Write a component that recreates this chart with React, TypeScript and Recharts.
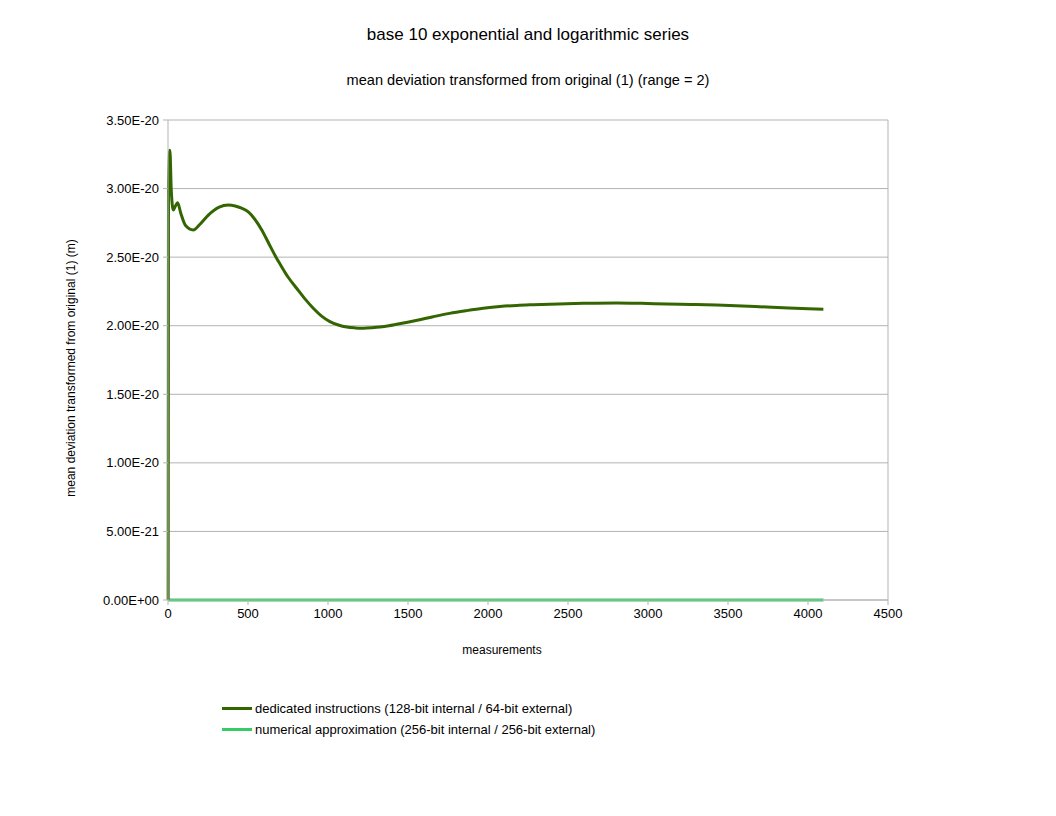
import { LineChart, Line, XAxis, YAxis, CartesianGrid, Legend, ReferenceLine, Label } from "recharts";

const measurements = [
  1, 3, 12, 20, 33, 45, 60, 80, 110, 158, 200, 252, 320, 377, 420, 460, 502, 540, 585, 630,
  675, 700, 750, 804, 860, 908, 960, 1012, 1065, 1117, 1170, 1221, 1275, 1325, 1380, 1429, 1490,
  1550, 1658, 1760, 1867, 1970, 2075, 2180, 2283, 2440, 2596, 2804, 2960, 3117, 3270, 3429, 3590,
  3742, 3920, 4096,
];
const dedicated = [
  0, 3.0e-20, 3.28e-20, 3.0e-20, 2.844e-20, 2.87e-20, 2.897e-20, 2.82e-20, 2.73e-20, 2.698e-20,
  2.74e-20, 2.807e-20, 2.865e-20, 2.88e-20, 2.873e-20, 2.857e-20, 2.83e-20, 2.78e-20, 2.7e-20,
  2.6e-20, 2.5e-20, 2.45e-20, 2.355e-20, 2.273e-20, 2.19e-20, 2.127e-20, 2.07e-20, 2.03e-20,
  2.005e-20, 1.99e-20, 1.984e-20, 1.982e-20, 1.985e-20, 1.99e-20, 1.999e-20, 2.01e-20, 2.024e-20,
  2.038e-20, 2.066e-20, 2.09e-20, 2.11e-20, 2.127e-20, 2.14e-20, 2.148e-20, 2.153e-20, 2.159e-20,
  2.163e-20, 2.166e-20, 2.163e-20, 2.158e-20, 2.155e-20, 2.151e-20, 2.144e-20, 2.136e-20,
  2.128e-20, 2.12e-20,
];
const numerical = measurements.map(() => 0);

const xTicks = [0, 500, 1000, 1500, 2000, 2500, 3000, 3500, 4000, 4500];
const yTicks = [0, 5e-21, 1e-20, 1.5e-20, 2e-20, 2.5e-20, 3e-20, 3.5e-20];

const data = measurements.map((m, i) => ({ m, dedicated: dedicated[i], numerical: numerical[i] }));

const FONT = "'Liberation Sans', Arial, sans-serif";
const GRID = "#b3b3b3";

function sci(v: number) {
  if (v === 0) return "0.00E+00";
  const [mant, exp] = v.toExponential(2).split("e");
  const n = parseInt(exp, 10);
  return `${mant}E${n < 0 ? "-" : "+"}${String(Math.abs(n)).padStart(2, "0")}`;
}

function LegendBox({ payload }: any) {
  return (
    <div style={{ fontFamily: FONT, fontSize: 13, color: "#000" }}>
      {(payload || []).map((p: any) => (
        <div key={p.value} style={{ display: "flex", alignItems: "center", height: 21 }}>
          <span style={{ display: "inline-block", width: 30, height: 3, background: p.color, marginRight: 3 }} />
          <span>{p.value}</span>
        </div>
      ))}
    </div>
  );
}

export default function App() {
  return (
    <div style={{ position: "absolute", left: 0, top: 0, width: 1056, height: 816, background: "#fff", fontFamily: FONT }}>
      <div style={{ position: "absolute", top: 25, width: 1056, textAlign: "center", fontSize: 17, color: "#000" }}>
        base 10 exponential and logarithmic series
      </div>
      <div style={{ position: "absolute", top: 72, width: 1056, textAlign: "center", fontSize: 14.6, color: "#000" }}>
        mean deviation transformed from original (1) (range = 2)
      </div>
      <LineChart
        width={1056}
        height={816}
        data={data}
        margin={{ top: 120, right: 168, left: 108, bottom: 186 }}
        style={{ position: "absolute", left: 0, top: 0 }}
      >
        <CartesianGrid vertical={false} stroke={GRID} />
        <XAxis
          dataKey="m"
          type="number"
          domain={[0, 4500]}
          ticks={xTicks}
          height={30}
          stroke={GRID}
          tickSize={5}
          tickMargin={4}
          tick={{ fill: "#000", fontSize: 13, fontFamily: FONT }}
        >
          <Label value="measurements" position="center" dx={-26} dy={35} fill="#000" fontSize={12} fontFamily={FONT} />
        </XAxis>
        <YAxis
          type="number"
          domain={[0, 3.5e-20]}
          ticks={yTicks}
          width={60}
          stroke={GRID}
          tickSize={5}
          tickMargin={4}
          tickFormatter={sci}
          tick={{ fill: "#000", fontSize: 13, fontFamily: FONT }}
        >
          <Label
            value="mean deviation transformed from original (1) (m)"
            position="center"
            angle={-90}
            dx={-67}
            dy={8}
            fill="#000"
            fontSize={12}
            fontFamily={FONT}
          />
        </YAxis>
        <ReferenceLine x={4500} stroke={GRID} />
        <Line
          type="monotone"
          dataKey="numerical"
          name="numerical approximation (256-bit internal / 256-bit external)"
          stroke="#33cc66"
          strokeWidth={3}
          dot={false}
          isAnimationActive={false}
        />
        <Line
          type="monotone"
          dataKey="dedicated"
          name="dedicated instructions (128-bit internal / 64-bit external)"
          stroke="#336600"
          strokeWidth={3}
          dot={false}
          isAnimationActive={false}
        />
        <Legend
          layout="vertical"
          verticalAlign="middle"
          align="center"
          wrapperStyle={{ left: 222, top: 698, width: 420 }}
          content={(props: any) => <LegendBox payload={props.payload} />}
        />
      </LineChart>
    </div>
  );
}
